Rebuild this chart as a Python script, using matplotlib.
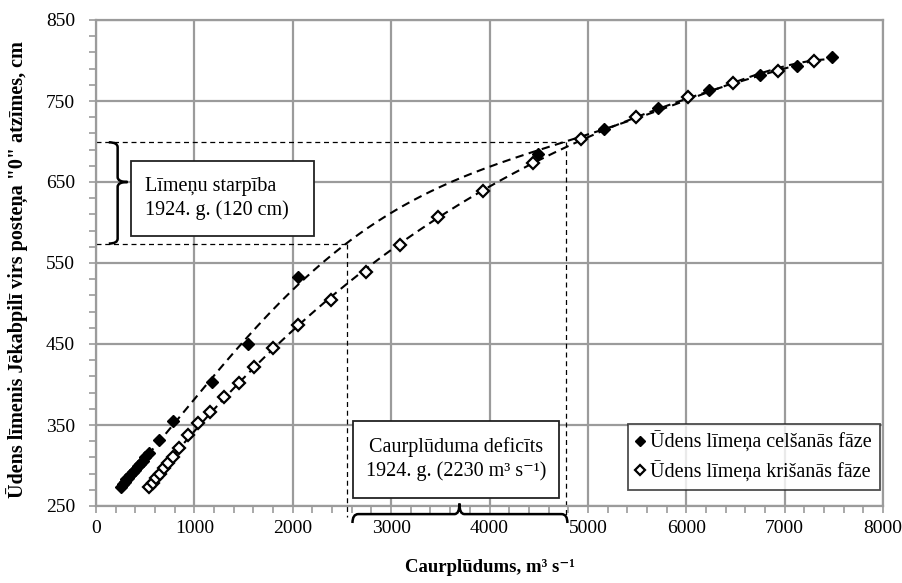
import numpy as np
import matplotlib
matplotlib.use("Agg")
import matplotlib.pyplot as plt
from matplotlib.path import Path
from matplotlib.patches import PathPatch, Rectangle
from matplotlib.ticker import FixedLocator

plt.rcParams['font.family'] = ['Liberation Serif', 'DejaVu Serif']

# ---- data ----
rise_q = [250, 270, 290, 310, 330, 350, 375, 400, 425, 450, 475, 500, 538,
          640, 785, 1180, 1545, 2053, 4492, 5163, 5711, 6230, 6748, 7124, 7480]
rise_h = [274, 277, 280, 283, 285, 288, 292, 295, 299, 302, 306, 310, 315,
          332, 355, 403, 450, 533, 685, 715, 741, 764, 782, 793, 804]

fall_q = [539, 575, 610, 650, 690, 730, 780, 840, 935, 1037, 1159, 1301, 1453,
          1606, 1799, 2053, 2388, 2744, 3089, 3476, 3933, 4441, 4929, 5488,
          6016, 6474, 6931, 7297]
fall_h = [273, 279, 284, 290, 297, 303, 311, 322, 338, 352, 366, 385, 402,
          422, 445, 473, 504, 539, 572, 607, 639, 673, 703, 730, 755, 772,
          787, 799]

levels_1924 = [573, 699]   # water levels compared in 1924
flows_1924 = [2547, 4782]  # discharges compared in 1924

x_ticks = [0, 1000, 2000, 3000, 4000, 5000, 6000, 7000, 8000]
y_ticks = [250, 350, 450, 550, 650, 750, 850]

label_rise = "Ūdens līmeņa celšanās fāze"
label_fall = "Ūdens līmeņa krišanās fāze"
xlabel = "Caurplūdums, m³ s⁻¹"
ylabel = "Ūdens līmenis Jēkabpilī virs posteņa \"0\" atzīmes, cm"
box1_text = "Līmeņu starpība\n1924. g. (120 cm)"
box2_text = "Caurplūduma deficīts\n1924. g. (2230 m³ s⁻¹)"

GRAY = "#9b9b9b"

fig = plt.figure(figsize=(9.02, 5.83), dpi=100)
ax = fig.add_axes([96/902, 1-506/583, (883-96)/902, (506-20)/583])

ax.set_xlim(x_ticks[0], x_ticks[-1])
ax.set_ylim(y_ticks[0], y_ticks[-1])
ax.xaxis.set_major_locator(FixedLocator(x_ticks))
ax.xaxis.set_minor_locator(FixedLocator(np.arange(x_ticks[0], x_ticks[-1] + 1, 200)))
ax.yaxis.set_major_locator(FixedLocator(y_ticks))
ax.yaxis.set_minor_locator(FixedLocator(np.arange(y_ticks[0], y_ticks[-1] + 1, 20)))
ax.grid(True, which='major', color=GRAY, lw=1.6)
ax.set_axisbelow(True)
for s in ax.spines.values():
    s.set_color(GRAY)
    s.set_linewidth(1.6)
ax.tick_params(which='both', direction='out', color=GRAY, width=1.2, length=5,
               labelsize=14)
ax.tick_params(axis='y', pad=10)
ax.tick_params(axis='x', pad=5)

# trend lines (polynomial fits of the series)
for q, h, deg in ((rise_q, rise_h, 5), (fall_q, fall_h, 3)):
    qa = np.asarray(q, float)
    coef = np.polyfit(qa, h, deg)
    xs = np.linspace(qa.min(), qa.max(), 400)
    ax.plot(xs, np.polyval(coef, xs), color='black', lw=1.5,
            dashes=(4, 2.6), zorder=3)

ax.plot(rise_q, rise_h, ls='none', marker='D', ms=6.5, mfc='black',
        mec='black', mew=1.0, zorder=4, label=label_rise)
ax.plot(fall_q, fall_h, ls='none', marker='D', ms=6.0, mfc='white',
        mec='black', mew=1.6, zorder=4, label=label_fall)

# 1924 helper lines
lo, hi = levels_1924
q1, q2 = flows_1924
bot = 236
kw = dict(color='black', lw=0.9, dashes=(4, 3), zorder=2, clip_on=False)
ax.plot([0, q2], [hi, hi], **kw)
ax.plot([0, q1], [lo, lo], **kw)
ax.plot([q2, q2], [hi, bot], **kw)
ax.plot([q1, q1], [lo, bot], **kw)

# bottom brace (discharge deficit)
bx0, bx1 = q1 + 60, q2 + 10
by = 240
bm = (q1 + q2) / 2 + 30
verts = [(bx0, by - 11), (bx0, by), (bx0 + 60, by),
         (bm - 50, by), (bm, by), (bm, by + 13),
         (bm, by), (bm + 50, by), (bx1 - 60, by),
         (bx1, by), (bx1, by - 11)]
codes = [Path.MOVETO, Path.CURVE3, Path.CURVE3,
         Path.LINETO, Path.CURVE3, Path.CURVE3,
         Path.CURVE3, Path.CURVE3, Path.LINETO,
         Path.CURVE3, Path.CURVE3]
ax.add_patch(PathPatch(Path(verts, codes), fc='none', ec='black', lw=1.8,
                       clip_on=False, zorder=5))

# left brace (level difference)
lx = 220
ly0, ly1 = lo + 1, hi
lm = 650
verts = [(lx - 90, ly1), (lx, ly1), (lx, ly1 - 6),
         (lx, lm + 6), (lx, lm), (lx + 100, lm),
         (lx, lm), (lx, lm - 6), (lx, ly0 + 6),
         (lx, ly0), (lx - 90, ly0)]
ax.add_patch(PathPatch(Path(verts, codes), fc='none', ec='black', lw=1.8,
                       clip_on=False, zorder=5))

# text boxes
ax.add_patch(Rectangle((352, 583), 2211 - 352, 676 - 583, fc='white',
                       ec='#222222', lw=1.3, zorder=6))
ax.text(352 + 150, (583 + 676) / 2, box1_text, fontsize=14.5, va='center',
        ha='left', linespacing=1.3, zorder=7)
ax.add_patch(Rectangle((2617, 260), 4711 - 2617, 355 - 260, fc='white',
                       ec='#222222', lw=1.3, zorder=6))
ax.text((2617 + 4711) / 2, (260 + 355) / 2, box2_text, fontsize=14.5,
        va='center', ha='center', linespacing=1.3, zorder=7)

leg = ax.legend(loc='lower right', bbox_to_anchor=(0.996, 0.033),
                borderaxespad=0, fontsize=14.5, frameon=True, fancybox=False,
                handlelength=0.5, handletextpad=0.25, borderpad=0.38,
                labelspacing=0.4, markerscale=0.8)
leg.get_frame().set_edgecolor('#222222')
leg.get_frame().set_linewidth(1.3)
leg.set_zorder(8)

ax.set_xlabel(xlabel, fontsize=13.5, fontweight='bold', labelpad=16)
ax.set_ylabel(ylabel, fontsize=14.5, fontweight='bold', labelpad=12)
ax.yaxis.label.set_y(0.486)

fig.savefig("out.png", dpi=100)
